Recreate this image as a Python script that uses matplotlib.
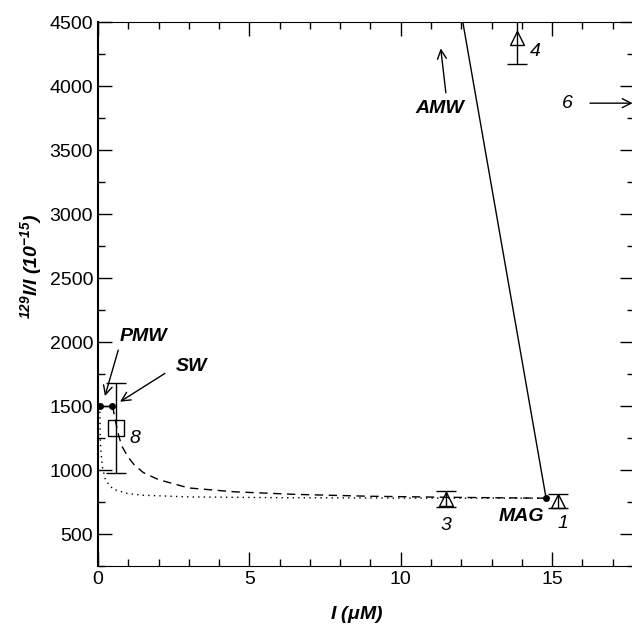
import matplotlib
matplotlib.use("Agg")
import matplotlib.pyplot as plt
import numpy as np
from matplotlib.ticker import MultipleLocator

plt.rcParams['font.family'] = ['Liberation Sans', 'DejaVu Sans']

# samples with error bars (triangles)
tri_x = [15.2, 11.5, 13.83]
tri_y = [760, 773, 4375]
tri_err = [55, 65, 205]

# sample 8 (square)
sq_x = [0.6]
sq_y = [1330]
sq_err = [350]

# end members
pmw = (0.06, 1500)
sw = (0.48, 1500)
mag = (14.8, 780)
amw_line_x = [14.8, 12.05]
amw_line_y = [780, 4500]

# mixing curves
dash_x = [0.48, 0.55, 0.65, 0.78, 1.0, 1.2, 1.5, 2.0, 3.0, 4.5, 6.5, 9.0, 12.0, 14.8]
dash_y = [1500, 1420, 1300, 1190, 1100, 1040, 980, 925, 860, 830, 810, 795, 786, 780]
dot_x = [0.06, 0.08, 0.1, 0.15, 0.25, 0.5, 1.0, 1.5, 3.0, 6.0, 10.0, 14.8]
dot_y = [1500, 1220, 1140, 1020, 920, 850, 815, 803, 790, 784, 781, 780]

# text labels and arrows (tail -> head)
labels = [('1', 15.34, 583, 'normal'), ('3', 11.49, 565, 'normal'),
          ('4', 14.44, 4268, 'normal'), ('8', 1.22, 1248, 'normal'),
          ('6', 15.5, 3867, 'normal'), ('MAG', 14.0, 635, 'bold'),
          ('AMW', 11.3, 3826, 'bold'), ('PMW', 1.5, 2041, 'bold'),
          ('SW', 3.1, 1807, 'bold')]
arrows = [((0.67, 1937), (0.23, 1578)), ((2.21, 1755), (0.73, 1534)),
          ((11.49, 3948), (11.32, 4295)), ((16.25, 3867), (17.66, 3867))]

fig = plt.figure(figsize=(6.32, 6.28), dpi=100)
ax = fig.add_axes([0.155, 0.0987, 0.848, 0.866])

ax.plot(dash_x, dash_y, color='black', lw=1, ls=(0, (6, 4)))
ax.plot(dot_x, dot_y, color='black', lw=1, ls=(0, (1, 3)))
ax.plot(amw_line_x, amw_line_y, color='black', lw=1)
ax.plot([pmw[0], sw[0]], [pmw[1], sw[1]], color='black', lw=1, marker='o', ms=4)
ax.plot([mag[0]], [mag[1]], color='black', marker='o', ms=4)

ax.errorbar(tri_x, tri_y, yerr=tri_err, fmt='^', mfc='none', mec='black', ms=10,
            ecolor='black', elinewidth=1, capsize=7, capthick=1)
ax.errorbar(sq_x, sq_y, yerr=sq_err, fmt='s', mfc='none', mec='black', ms=11,
            ecolor='black', elinewidth=1, capsize=7, capthick=1)

ax.set_xlim(0, 17.7)
ax.set_ylim(250, 4500)

fs = 14
for txt, x, y, w in labels:
    ax.text(x, y, txt, fontsize=fs, style='italic', weight=w, ha='center', va='center')
for tail, head in arrows:
    ax.annotate('', xy=head, xytext=tail, annotation_clip=False,
                arrowprops=dict(arrowstyle='->', color='black', lw=1, shrinkA=0, shrinkB=0,
                                mutation_scale=16))

ax.xaxis.set_major_locator(MultipleLocator(5))
ax.xaxis.set_minor_locator(MultipleLocator(1))
ax.set_yticks(np.arange(500, 4501, 500))
ax.yaxis.set_minor_locator(MultipleLocator(250))
ax.tick_params(which='both', direction='in', top=True, right=True, labelsize=fs)
ax.tick_params(which='major', length=10, width=1)
ax.tick_params(which='minor', length=5, width=1)
ax.spines['left'].set_linewidth(1.5)

ax.set_xlabel(r'I ($\mathregular{\mu}$M)', fontsize=fs, style='italic', weight='bold', va='center')
ax.set_ylabel(r'$\mathregular{^{129}}$I/I (10$\mathregular{^{-15}}$)', fontsize=fs,
              style='italic', weight='bold', va='center')
ax.xaxis.set_label_coords(0.483, -0.09)
ax.yaxis.set_label_coords(-0.125, 0.551)

fig.savefig('out.png', dpi=100)
